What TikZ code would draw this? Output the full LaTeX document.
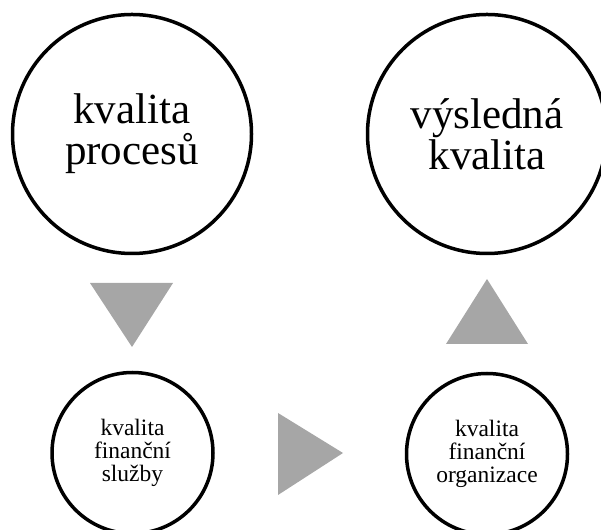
\documentclass[tikz,border=0pt]{standalone}
\usepackage{fontspec}
\setmainfont{Liberation Serif}
\begin{document}
\begin{tikzpicture}[x=1pt,y=1pt,
  bigc/.style={circle, draw=black, line width=3.5pt, fill=white, inner sep=0pt, minimum size=239pt, align=center, font=\fontsize{43}{41}\selectfont},
  smallc/.style={circle, draw=black, line width=3.5pt, fill=white, inner sep=0pt, minimum size=161pt, align=center, font=\fontsize{23.5}{23}\selectfont},
  tri/.style={fill=triGray, draw=none}]
\definecolor{triGray}{RGB}{166,166,166}
\useasboundingbox (0,0) rectangle (601,529);
\clip (0,0) rectangle (601,529);
\node[bigc] (kp) at (132,395) {kvalita\\procesů};
\node[bigc] (vk) at (487,395) {výsledná\\kvalita};
\node[smallc] (kfs) at (132.5,76) {kvalita\\finanční\\služby};
\node[smallc] (kfo) at (487,75) {kvalita\\finanční\\organizace};
\fill[tri] (90,246) -- (173,246) -- (132,182) -- cycle;
\fill[tri] (278,116) -- (278,34) -- (343,76) -- cycle;
\fill[tri] (446,185) -- (528,185) -- (487,250) -- cycle;
\end{tikzpicture}
\end{document}
